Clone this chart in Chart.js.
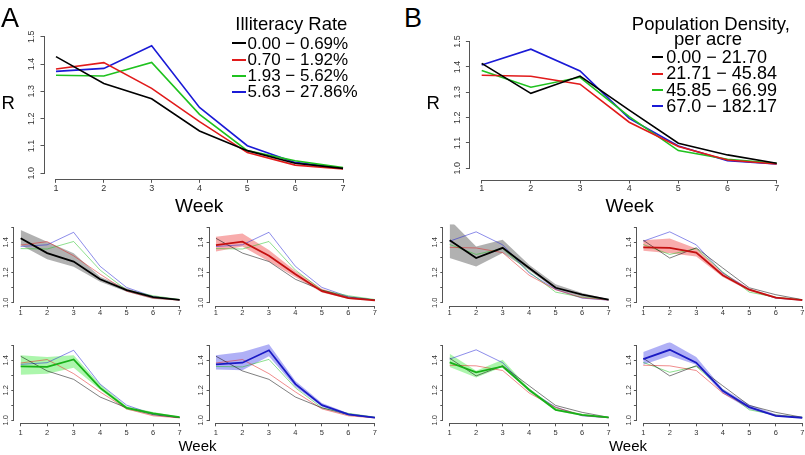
<!DOCTYPE html>
<html><head><meta charset="utf-8">
<script src="https://cdn.jsdelivr.net/npm/chart.js@4/dist/chart.umd.min.js"></script>
<style>
html,body{margin:0;padding:0;background:#fff;}
body{width:805px;height:455px;position:relative;overflow:hidden;font-family:"Liberation Sans",Arial,Helvetica,sans-serif;}
canvas{position:absolute;}
.t{position:absolute;white-space:nowrap;line-height:1;color:#000;}
.ln{position:absolute;height:2px;}
</style></head><body>
<script>
// ---------------- data ----------------
const weeks = [1, 2, 3, 4, 5, 6, 7];
const yTicksTop = [1.0, 1.1, 1.2, 1.3, 1.4, 1.5];
const yTickLabelsTop = ['1.0', '1.1', '1.2', '1.3', '1.4', '1.5'];
const yTicksSmall = [1.0, 1.1, 1.2, 1.3, 1.4, 1.5];
const yTickLabelsSmall = ['1.0', '', '1.2', '', '1.4', ''];

const illitTitle = 'Illiteracy Rate';
const illitLabels = ['0.00 \u2212 0.69%', '0.70 \u2212 1.92%', '1.93 \u2212 5.62%', '5.63 \u2212 27.86%'];
const densTitle = ['Population Density,', 'per acre'];
const densLabels = ['0.00 \u2212 21.70', '21.71 \u2212 45.84', '45.85 \u2212 66.99', '67.0 \u2212 182.17'];

// Illiteracy rate groups: mean R by week
const illitBlack = [1.427, 1.329, 1.273, 1.155, 1.083, 1.037, 1.018];
const illitRed   = [1.382, 1.405, 1.311, 1.189, 1.076, 1.030, 1.016];
const illitGreen = [1.359, 1.356, 1.406, 1.216, 1.083, 1.046, 1.021];
const illitBlue  = [1.373, 1.384, 1.467, 1.241, 1.101, 1.040, 1.018];
// bands
const illitBlackHi = [1.482, 1.405, 1.328, 1.172, 1.095, 1.042, 1.022];
const illitBlackLo = [1.383, 1.288, 1.239, 1.139, 1.073, 1.025, 1.016];
const illitRedHi   = [1.437, 1.459, 1.350, 1.210, 1.092, 1.037, 1.020];
const illitRedLo   = [1.339, 1.372, 1.273, 1.168, 1.068, 1.025, 1.013];
const illitGreenHi = [1.433, 1.422, 1.433, 1.240, 1.093, 1.056, 1.024];
const illitGreenLo = [1.304, 1.311, 1.351, 1.204, 1.071, 1.038, 1.014];
const illitBlueHi  = [1.433, 1.456, 1.507, 1.262, 1.115, 1.047, 1.022];
const illitBlueLo  = [1.338, 1.333, 1.427, 1.222, 1.090, 1.033, 1.014];

// Population density groups
const densBlack = [1.414, 1.296, 1.364, 1.230, 1.099, 1.053, 1.020];
const densRed   = [1.367, 1.363, 1.332, 1.182, 1.086, 1.033, 1.017];
const densGreen = [1.386, 1.320, 1.359, 1.204, 1.070, 1.036, 1.020];
const densBlue  = [1.408, 1.470, 1.384, 1.197, 1.088, 1.030, 1.017];
const densBlackHi = [1.551, 1.373, 1.418, 1.251, 1.122, 1.065, 1.022];
const densBlackLo = [1.296, 1.240, 1.329, 1.216, 1.088, 1.037, 1.016];
const densRedHi   = [1.415, 1.426, 1.360, 1.200, 1.095, 1.040, 1.020];
const densRedLo   = [1.345, 1.328, 1.306, 1.170, 1.078, 1.028, 1.014];
const densGreenHi = [1.444, 1.330, 1.404, 1.212, 1.085, 1.042, 1.022];
const densGreenLo = [1.356, 1.286, 1.356, 1.190, 1.063, 1.028, 1.014];
const densBlueHi  = [1.455, 1.522, 1.422, 1.210, 1.106, 1.040, 1.018];
const densBlueLo  = [1.371, 1.431, 1.371, 1.179, 1.073, 1.027, 1.013];

// ---------------- styles ----------------
const FONT = "'Liberation Sans', Arial, Helvetica, sans-serif";
const lineCol  = ['#000000', '#e11b1b', '#1fc21f', '#1b1bd6'];
const mainCol  = ['#000000', '#c41010', '#18b018', '#1a1ac4'];
const thinCol  = ['rgba(0,0,0,0.5)', 'rgba(225,27,27,0.5)', 'rgba(31,194,31,0.5)', 'rgba(27,27,214,0.5)'];
const bandCol  = ['rgba(100,100,100,0.5)', 'rgba(240,70,70,0.45)', 'rgba(70,235,70,0.45)', 'rgba(80,80,235,0.45)'];

Chart.defaults.font.family = FONT;

const illitMeans = [illitBlack, illitRed, illitGreen, illitBlue];
const illitHi = [illitBlackHi, illitRedHi, illitGreenHi, illitBlueHi];
const illitLo = [illitBlackLo, illitRedLo, illitGreenLo, illitBlueLo];
const densMeans = [densBlack, densRed, densGreen, densBlue];
const densHi = [densBlackHi, densRedHi, densGreenHi, densBlueHi];
const densLo = [densBlackLo, densRedLo, densGreenLo, densBlueLo];

const pts = arr => arr.map((v, i) => ({x: weeks[i], y: v}));

const rAxes = {
  id: 'rAxes',
  afterDraw(chart) {
    const {ctx, chartArea: ca, scales: {x, y}} = chart;
    ctx.save();
    ctx.strokeStyle = '#555';
    ctx.lineWidth = 1;
    ctx.beginPath();
    const xl = Math.round(ca.left) - 0.5;
    ctx.moveTo(xl, y.getPixelForValue(y.ticks[0].value));
    ctx.lineTo(xl, y.getPixelForValue(y.ticks[y.ticks.length - 1].value));
    const yb = Math.round(ca.bottom) + 0.5;
    ctx.moveTo(x.getPixelForValue(x.ticks[0].value), yb);
    ctx.lineTo(x.getPixelForValue(x.ticks[x.ticks.length - 1].value), yb);
    ctx.stroke();
    ctx.restore();
  }
};

function makeChart(area, yRange, datasets, st) {
  const cl = Math.floor(area.L) - 40, ct = Math.floor(area.T) - 24;
  const cw = Math.ceil(area.R) + 14 - cl, ch = Math.ceil(area.B) + 28 - ct;
  const yW = area.L - cl, padT = area.T - ct, padR = cl + cw - area.R, xH = ct + ch - area.B;
  const cv = document.createElement('canvas');
  cv.width = cw; cv.height = ch;
  cv.style.left = cl + 'px'; cv.style.top = ct + 'px';
  cv.style.width = cw + 'px'; cv.style.height = ch + 'px';
  document.body.appendChild(cv);
  new Chart(cv, {
    type: 'line',
    data: {datasets},
    options: {
      responsive: false, animation: false, devicePixelRatio: 1,
      layout: {padding: {top: padT, right: padR, left: 0, bottom: 0}},
      plugins: {legend: {display: false}, tooltip: {enabled: false}},
      elements: {point: {radius: 0}, line: {tension: 0}},
      scales: {
        x: {
          type: 'linear', min: 0.76, max: 7.24,
          afterBuildTicks: s => { s.ticks = weeks.map(v => ({value: v})); },
          afterFit: s => { s.height = xH; },
          border: {display: false},
          grid: {display: true, drawOnChartArea: false, drawTicks: true, tickLength: st.tl, color: '#555'},
          ticks: {autoSkip: false, maxRotation: 0, minRotation: 0, padding: st.xPad, color: '#333',
                  font: {size: st.fs, family: FONT}, callback: (v, i) => String(weeks[i])}
        },
        y: {
          type: 'linear', min: yRange[0], max: yRange[1],
          afterBuildTicks: s => { s.ticks = st.yTicks.map(v => ({value: v})); },
          afterFit: s => { s.width = yW; },
          border: {display: false},
          grid: {display: true, drawOnChartArea: false, drawTicks: true, tickLength: st.tl, color: '#555'},
          ticks: {autoSkip: false, minRotation: 90, maxRotation: 90, crossAlign: 'center', padding: st.yPad,
                  color: '#333', font: {size: st.fs, family: FONT}, callback: (v, i) => st.yLabels[i]}
        }
      }
    },
    plugins: [rAxes]
  });
}

const topStyle = {tl: 4, fs: 9, xPad: 0, yPad: 2.5, yTicks: yTicksTop, yLabels: yTickLabelsTop};
const smallTopStyle = {tl: 3, fs: 7.5, xPad: 0, yPad: 0, yTicks: yTicksSmall, yLabels: yTickLabelsSmall};
const smallBotStyle = {tl: 3, fs: 7.5, xPad: 2, yPad: 0, yTicks: yTicksSmall, yLabels: yTickLabelsSmall};

function topSets(means) {
  return means.map((m, i) => ({data: pts(m), borderColor: lineCol[i], borderWidth: 1.6, fill: false}));
}
function smallSets(means, hi, lo, k) {
  const sets = [{data: pts(means[k]), borderColor: mainCol[k], borderWidth: 1.8, fill: false}];
  means.forEach((m, i) => { if (i !== k) sets.push({data: pts(m), borderColor: thinCol[i], borderWidth: 1, fill: false}); });
  sets.push({data: pts(hi[k]), borderWidth: 0, borderColor: 'rgba(0,0,0,0)', backgroundColor: bandCol[k], fill: '+1'});
  sets.push({data: pts(lo[k]), borderWidth: 0, borderColor: 'rgba(0,0,0,0)', fill: false});
  return sets;
}

// top panels
makeChart({L: 44.5, T: 31.2, R: 354.5, B: 178.8}, [0.98, 1.52], topSets(illitMeans), topStyle);
makeChart({L: 469.9, T: 31.2, R: 788.5, B: 179.5}, [0.956, 1.541], topSets(densMeans), topStyle);

// small panels
const colsA = [14.3, 209.6], colsB = [443.3, 636.9];
const rows = [{T: 224.3, B: 305.7, st: smallTopStyle}, {T: 342.3, B: 423.3, st: smallBotStyle}];
for (let k = 0; k < 4; k++) {
  const r = rows[Math.floor(k / 2)], c = k % 2;
  makeChart({L: colsA[c], T: r.T, R: colsA[c] + 171.7, B: r.B}, [0.98, 1.52], smallSets(illitMeans, illitHi, illitLo, k), r.st);
  makeChart({L: colsB[c], T: r.T, R: colsB[c] + 171.7, B: r.B}, [0.98, 1.52], smallSets(densMeans, densHi, densLo, k), r.st);
}

// ---------------- text ----------------
function txt(s, left, baseline, fs, center) {
  const d = document.createElement('div');
  d.className = 't';
  d.textContent = s;
  d.style.fontSize = fs + 'px';
  d.style.top = (baseline - 0.8465 * fs) + 'px';
  if (center) { d.style.left = (left - 200) + 'px'; d.style.width = '400px'; d.style.textAlign = 'center'; }
  else d.style.left = left + 'px';
  document.body.appendChild(d);
}
function seg(x1, x2, y, col) {
  const d = document.createElement('div');
  d.className = 'ln';
  d.style.left = x1 + 'px'; d.style.width = (x2 - x1) + 'px';
  d.style.top = (y - 1) + 'px'; d.style.background = col;
  document.body.appendChild(d);
}
txt('A', 1, 28, 27);
txt('B', 404, 28, 27);
txt('R', 1.5, 110, 18.5);
txt('R', 426.5, 110, 18.5);
txt('Week', 199.2, 211.7, 19, true);
txt('Week', 629.7, 211.7, 19, true);
txt('Week', 197.5, 450.7, 15, true);
txt('Week', 628, 450.7, 15, true);

txt(illitTitle, 235.3, 30.7, 18.5);
const aBase = [49.3, 65.5, 81.7, 97.5];
illitLabels.forEach((s, i) => { txt(s, 247.5, aBase[i], 17); seg(232, 246, aBase[i] - 6, lineCol[i]); });

txt(densTitle[0], 631.8, 30.7, 18.5);
txt(densTitle[1], 708, 45.5, 18.5, true);
const bBase = [63.3, 79.7, 96, 112.3];
densLabels.forEach((s, i) => { txt(s, 666.3, bBase[i], 18); seg(651.7, 663.3, bBase[i] - 6, lineCol[i]); });
</script>
</body></html>
